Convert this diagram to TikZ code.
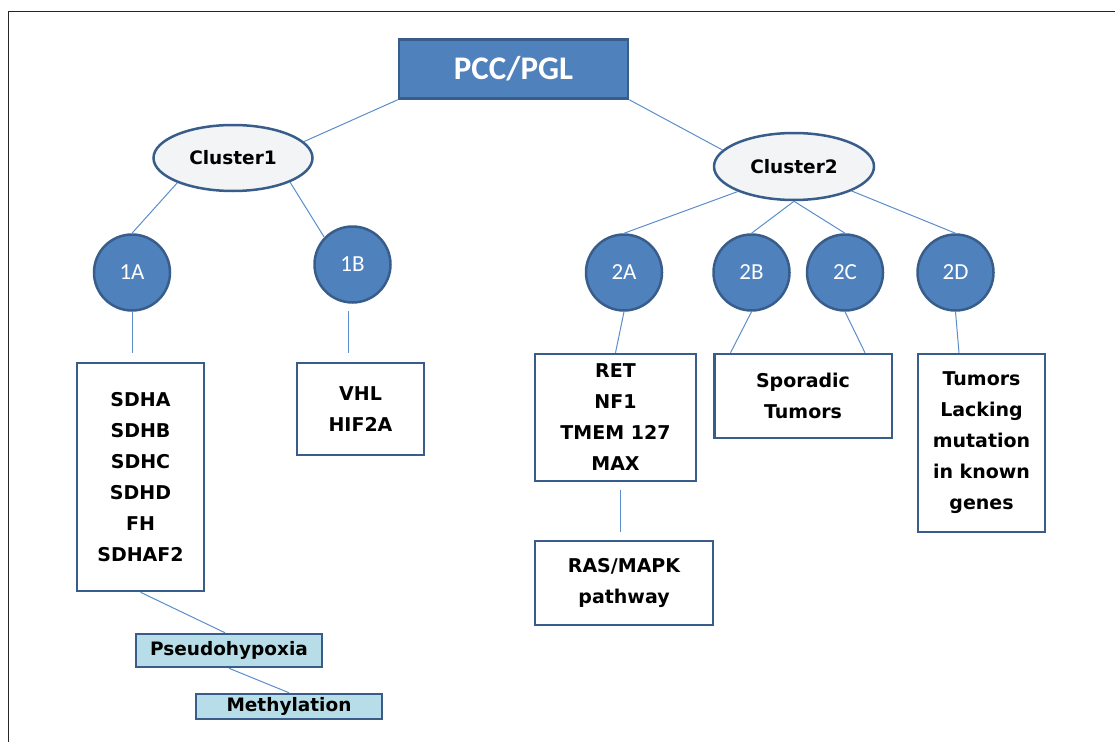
\documentclass[tikz,border=0pt]{standalone}
\usepackage{fontspec}
\usetikzlibrary{shapes.geometric,calc}
\newfontfamily\boxfont{DejaVu Sans}
\newfontfamily\calfont{Carlito}
\definecolor{fillblue}{HTML}{4F81BD}
\definecolor{edgeblue}{HTML}{385D8A}
\definecolor{linkblue}{HTML}{5B8DCB}
\definecolor{ellfill}{HTML}{F3F4F6}
\definecolor{paleblue}{HTML}{B7DEE8}
\tikzset{
  x=1pt,y=1pt,
  headbox/.style={rectangle,draw=edgeblue,line width=2.5pt,fill=fillblue,inner sep=0pt,
    text=white,font=\calfont\bfseries\fontsize{33}{36}\selectfont},
  clusterell/.style={ellipse,draw=edgeblue,line width=2.5pt,fill=ellfill,inner sep=0pt,
    font=\boxfont\bfseries\fontsize{18.5}{22}\selectfont},
  subcirc/.style={circle,draw=edgeblue,line width=2.5pt,fill=fillblue,inner sep=0pt,
    minimum size=76pt,text=white,font=\calfont\fontsize{23}{26}\selectfont},
  genebox/.style={rectangle,draw=edgeblue,line width=2.5pt,fill=white,inner sep=0pt,
    align=center,font=\boxfont\bfseries\fontsize{19}{31}\selectfont},
  pathbox/.style={rectangle,draw=edgeblue,line width=2.5pt,fill=paleblue,inner sep=0pt,
    font=\boxfont\bfseries\fontsize{18.5}{22}\selectfont},
  link/.style={draw=linkblue,line width=1pt},
  frameline/.style={draw=black!85,line width=1.6pt}
}
\begin{document}
\begin{tikzpicture}
\useasboundingbox (0,0) rectangle (1115,-741);
% frame
\coordinate (fbl) at (8.5,-745);
\coordinate (ftl) at (8.5,-11.5);
\coordinate (ftr) at (1120,-11.5);
\draw[frameline] (fbl) -- (ftl) -- (ftr);

% nodes
\node[headbox,minimum width=229pt,minimum height=59pt] (pcc) at (513.5,-69) {PCC/PGL};
\node[clusterell,minimum width=159pt,minimum height=66pt] (c1) at (233,-158) {Cluster1};
\node[clusterell,minimum width=160pt,minimum height=67pt] (c2) at (794,-166.5) {Cluster2};

\node[subcirc] (n1a) at (132,-272.5) {1A};
\node[subcirc] (n1b) at (352.5,-264.5) {1B};
\node[subcirc] (n2a) at (624,-272.5) {2A};
\node[subcirc] (n2b) at (751.5,-272.5) {2B};
\node[subcirc] (n2c) at (845,-272.5) {2C};
\node[subcirc] (n2d) at (955.5,-272.5) {2D};

\node[genebox,minimum width=127pt,minimum height=228pt] (sdh) at (140.5,-477)
  {SDHA\\SDHB\\SDHC\\SDHD\\FH\\SDHAF2};
\node[genebox,minimum width=127pt,minimum height=92pt] (vhl) at (360.5,-409)
  {VHL\\HIF2A};
\node[genebox,minimum width=161pt,minimum height=127pt] (ret) at (615.5,-417.5)
  {RET\\NF1\\TMEM 127\\MAX};
\node[genebox,minimum width=178pt,minimum height=84pt] (ras) at (624,-583)
  {RAS/MAPK\\pathway};
\node[genebox,minimum width=177.5pt,minimum height=84pt] (spor) at (803,-396)
  {Sporadic\\Tumors};
\node[genebox,minimum width=127pt,minimum height=178pt] (tum) at (981.5,-443)
  {Tumors\\Lacking\\mutation\\in known\\genes};

\node[pathbox,minimum width=186pt,minimum height=33pt] (pseudo) at (229,-650.5) {Pseudohypoxia};
\node[pathbox,minimum width=186pt,minimum height=25pt] (meth) at (289,-706.5) {Methylation};

% connectors
\draw[link] (pcc.south west) -- (c1.13);
\draw[link] (pcc.south east) -- (c2.167);
\draw[link] (c1.204) -- (n1a.north);
\draw[link] (c1.337) -- (n1b.136);
\draw[link] (c2.204) -- (n2a.north);
\draw[link] (c2.south) -- (n2b.north);
\draw[link] (c2.south) -- (n2c.north);
\draw[link] (c2.337) -- (n2d.north);

\draw[link,shorten >=9pt] (n1a.south) -- (n1a.south |- sdh.north);
\draw[link,shorten <=7pt,shorten >=9pt] ([xshift=-4pt]n1b.south) -- ([xshift=-4pt]n1b.south |- vhl.north);
\draw[link] (n2a.south) -- (ret.north);
\draw[link] (n2b.south) -- ($(spor.north west)+(17.5,0)$);
\draw[link] (n2c.south) -- ($(spor.north east)+(-28,0)$);
\draw[link] (n2d.south) -- ($(tum.north)+(-22.5,0)$);
\draw[link,shorten <=8pt,shorten >=8pt] ([xshift=4.5pt]ret.south) -- ([xshift=4.5pt]ret.south |- ras.north);
\draw[link] (sdh.south) -- ($(pseudo.north)+(-4,0)$);
\draw[link] (pseudo.south) -- (meth.north);
\end{tikzpicture}
\end{document}
